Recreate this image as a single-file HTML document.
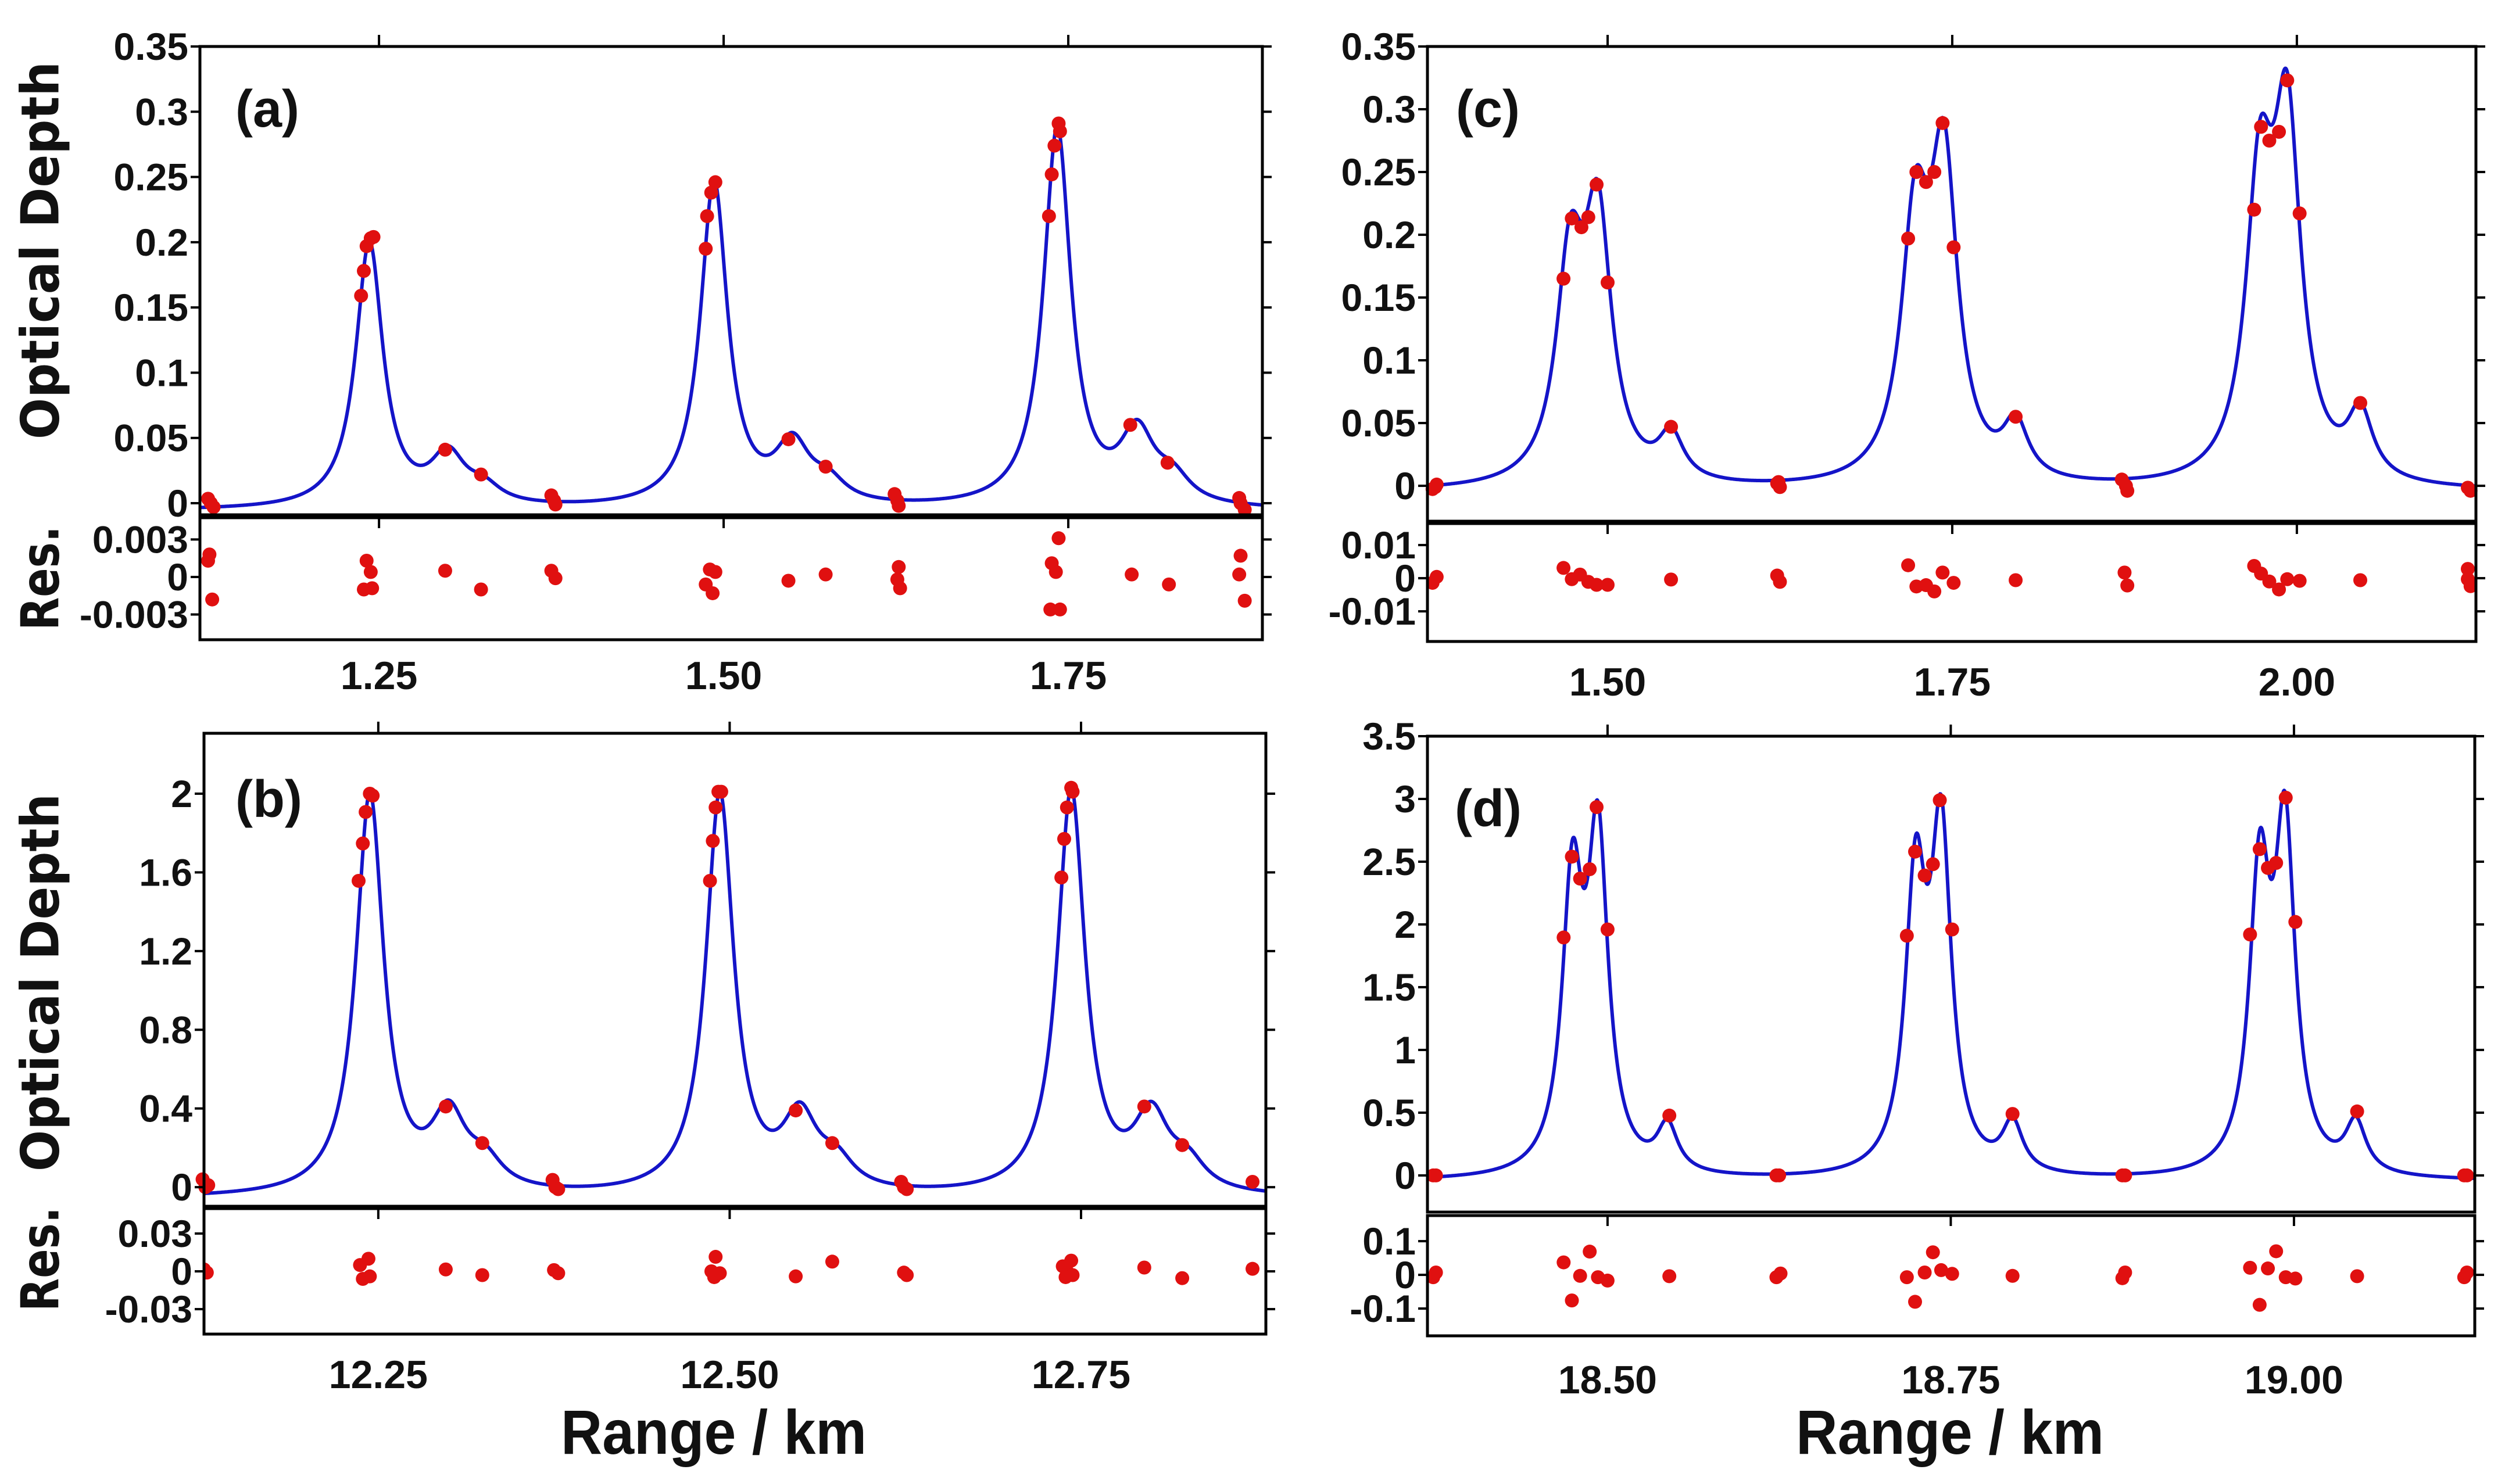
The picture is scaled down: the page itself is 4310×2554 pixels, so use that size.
<!DOCTYPE html>
<html><head><meta charset="utf-8">
<style>
html,body{margin:0;padding:0;background:#fff;}
svg{display:block;}
text{font-family:"Liberation Sans",Arial,sans-serif;font-weight:bold;fill:#111;}
</style></head>
<body>
<svg id="chart" width="4310" height="2554" viewBox="0 0 4310 2554" xmlns="http://www.w3.org/2000/svg">
<rect x="0" y="0" width="4310" height="2554" fill="#fff"/>
<text x="70" y="431" transform="rotate(-90 70 431)" text-anchor="middle" dominant-baseline="central" style="font-family:'DejaVu Sans',sans-serif;font-size:90px" textLength="650" lengthAdjust="spacingAndGlyphs">Optical Depth</text>
<text x="70" y="995" transform="rotate(-90 70 995)" text-anchor="middle" dominant-baseline="central" style="font-family:'DejaVu Sans',sans-serif;font-size:90px" textLength="180" lengthAdjust="spacingAndGlyphs">Res.</text>
<text x="70" y="1691" transform="rotate(-90 70 1691)" text-anchor="middle" dominant-baseline="central" style="font-family:'DejaVu Sans',sans-serif;font-size:90px" textLength="650" lengthAdjust="spacingAndGlyphs">Optical Depth</text>
<text x="70" y="2167" transform="rotate(-90 70 2167)" text-anchor="middle" dominant-baseline="central" style="font-family:'DejaVu Sans',sans-serif;font-size:90px" textLength="180" lengthAdjust="spacingAndGlyphs">Res.</text>
<text x="1228" y="2502" text-anchor="middle" style="font-size:108px" textLength="526" lengthAdjust="spacingAndGlyphs">Range / km</text>
<text x="3355" y="2502" text-anchor="middle" style="font-size:108px" textLength="530" lengthAdjust="spacingAndGlyphs">Range / km</text>
</svg>
<script>
// ---------- Panel (a) data ----------
const aCenters=[1.243,1.300,1.326,1.493,1.550,1.576,1.742,1.800,1.826];
const aHeights=[0.203,0.037,0.012,0.249,0.044,0.015,0.290,0.053,0.018];
const aWidths=[0.012,0.015,0.015,0.012,0.015,0.015,0.012,0.015,0.015];
const aBase=[-0.006];
const aPtsX=[1.126,1.128,1.130,1.237,1.239,1.241,1.244,1.246,1.298,1.324,1.375,1.377,1.378,1.487,1.488,1.491,1.494,1.547,1.574,1.624,1.626,1.627,1.736,1.738,1.740,1.743,1.744,1.795,1.822,1.874,1.875,1.878];
const aPtsY=[0.0034,0,-0.003,0.159,0.178,0.197,0.203,0.204,0.041,0.022,0.006,0.002,-0.001,0.195,0.22,0.238,0.246,0.049,0.028,0.007,0.002,-0.002,0.22,0.252,0.274,0.291,0.285,0.06,0.031,0.004,0,-0.005];
const aResX=[1.126,1.127,1.129,1.241,1.244,1.239,1.245,1.298,1.324,1.375,1.378,1.490,1.494,1.487,1.492,1.547,1.574,1.627,1.626,1.628,1.743,1.738,1.741,1.737,1.744,1.796,1.823,1.875,1.874,1.878];
const aResY=[0.0013,0.0018,-0.0018,0.0013,0.0004,-0.001,-0.0009,0.0005,-0.001,0.0005,-0.0001,0.0006,0.0004,-0.0006,-0.0013,-0.0003,0.0002,0.0008,-0.0002,-0.0009,0.0031,0.0011,0.0004,-0.0026,-0.0026,0.0002,-0.0006,0.0017,0.0002,-0.0019];
const aXTicks=[1.25,1.50,1.75];
const aXTickLabels=["1.25","1.50","1.75"];
const aYTicks=[0,0.05,0.1,0.15,0.2,0.25,0.3,0.35];
const aYTickLabels=["0","0.05","0.1","0.15","0.2","0.25","0.3","0.35"];
const aRTicks=[0.003,0,-0.003];
const aRTickLabels=["0.003","0","-0.003"];

// ---------- Panel (b) data ----------
const bCenters=[12.244,12.300,12.326,12.493,12.550,12.576,12.743,12.800,12.826];
const bHeights=[2.03,0.37,0.13,2.03,0.36,0.13,2.05,0.37,0.13];
const bWidths=[0.012,0.015,0.015,0.012,0.015,0.015,0.012,0.015,0.015];
const bBase=[-0.06];
const bPtsX=[12.125,12.127,12.129,12.236,12.239,12.241,12.244,12.246,12.298,12.324,12.374,12.376,12.378,12.486,12.488,12.490,12.492,12.494,12.547,12.573,12.622,12.624,12.626,12.736,12.738,12.740,12.743,12.744,12.795,12.822,12.872];
const bPtsY=[0.04,0,0.01,1.557,1.747,1.907,2.0,1.99,0.41,0.224,0.037,0,-0.01,1.557,1.76,1.93,2.01,2.01,0.39,0.224,0.027,0,-0.01,1.574,1.77,1.93,2.03,2.01,0.41,0.214,0.027];
const bResX=[12.126,12.128,12.125,12.243,12.237,12.239,12.244,12.298,12.324,12.375,12.378,12.490,12.487,12.489,12.493,12.547,12.573,12.624,12.626,12.737,12.743,12.740,12.739,12.744,12.795,12.822,12.872];
const bResY=[0.0015,-0.001,0.001,0.01,0.005,-0.006,-0.004,0.0015,-0.003,0.001,-0.0015,0.0115,0,-0.0046,-0.0015,-0.004,0.0077,-0.001,-0.003,0.004,0.0085,0,-0.0046,-0.003,0.003,-0.0054,0.002];
const bXTicks=[12.25,12.50,12.75];
const bXTickLabels=["12.25","12.50","12.75"];
const bYTicks=[0,0.4,0.8,1.2,1.6,2];
const bYTickLabels=["0","0.4","0.8","1.2","1.6","2"];
const bRTicks=[0.03,0,-0.03];
const bRTickLabels=["0.03","0","-0.03"];

// ---------- Panel (c) data ----------
const cCenters=[1.4727,1.493,1.546,1.723,1.744,1.796,1.973,1.993,2.046];
const cHeights=[0.166,0.202,0.036,0.193,0.245,0.043,0.221,0.273,0.052];
const cWidths=[0.012,0.012,0.011,0.012,0.012,0.011,0.012,0.012,0.011];
const cBase=[-0.005];
const cPtsX=[1.373,1.376,1.375,1.468,1.474,1.481,1.486,1.492,1.500,1.546,1.623,1.625,1.624,1.718,1.724,1.731,1.737,1.743,1.751,1.796,1.873,1.876,1.877,1.969,1.974,1.980,1.987,1.993,2.002,2.046,2.124,2.126];
const cPtsY=[-0.0026,0.001,-0.001,0.165,0.213,0.206,0.214,0.24,0.162,0.047,0.002,-0.001,0.003,0.197,0.25,0.242,0.25,0.289,0.19,0.055,0.005,0,-0.004,0.22,0.286,0.275,0.282,0.323,0.217,0.066,-0.0015,-0.004];
const cResX=[1.373,1.376,1.468,1.474,1.480,1.486,1.492,1.500,1.546,1.623,1.625,1.718,1.724,1.731,1.737,1.743,1.751,1.796,1.875,1.877,1.969,1.974,1.980,1.987,1.993,2.002,2.046,2.124,2.124,2.126];
const cResY=[-0.0014,0.0004,0.0031,-0.0003,0.0011,-0.0011,-0.002,-0.002,-0.0004,0.0008,-0.0011,0.0039,-0.0025,-0.0021,-0.004,0.0017,-0.0014,-0.0006,0.0017,-0.0022,0.0037,0.0014,-0.001,-0.0034,-0.0003,-0.0008,-0.0006,0.0028,-0.0003,-0.0024];
const cXTicks=[1.50,1.75,2.00];
const cXTickLabels=["1.50","1.75","2.00"];
const cYTicks=[0,0.05,0.1,0.15,0.2,0.25,0.3,0.35];
const cYTickLabels=["0","0.05","0.1","0.15","0.2","0.25","0.3","0.35"];
const cRTicks=[0.01,0,-0.01];
const cRTickLabels=["0.01","0","-0.01"];

// ---------- Panel (d) data ----------
const dCenters=[18.4744,18.493,18.5436,18.7244,18.743,18.795,18.975,18.9935,19.045];
const dHeights=[2.22,2.59,0.37,2.24,2.63,0.39,2.28,2.65,0.40];
const dWidths=[0.009,0.009,0.009,0.009,0.009,0.009,0.009,0.009,0.009];
const dBase=[-0.05];
const dPtsX=[18.373,18.375,18.468,18.474,18.480,18.487,18.492,18.500,18.545,18.623,18.625,18.718,18.724,18.731,18.737,18.742,18.751,18.795,18.875,18.877,18.968,18.975,18.981,18.987,18.994,19.001,19.046,19.124,19.126];
const dPtsY=[0,0,1.896,2.54,2.365,2.44,2.935,1.96,0.477,0,0,1.91,2.58,2.39,2.48,2.99,1.96,0.49,0,0,1.92,2.6,2.45,2.49,3.01,2.02,0.51,0,0];
const dResX=[18.373,18.375,18.468,18.474,18.480,18.487,18.493,18.500,18.545,18.623,18.626,18.718,18.724,18.731,18.737,18.743,18.751,18.795,18.875,18.877,18.968,18.975,18.981,18.987,18.994,19.001,19.046,19.124,19.126];
const dResY=[-0.007,0.007,0.037,-0.076,-0.003,0.069,-0.007,-0.017,-0.004,-0.007,0.004,-0.007,-0.08,0.007,0.067,0.014,0.003,-0.003,-0.01,0.007,0.021,-0.089,0.019,0.07,-0.007,-0.011,-0.004,-0.007,0.007];
const dXTicks=[18.50,18.75,19.00];
const dXTickLabels=["18.50","18.75","19.00"];
const dYTicks=[0,0.5,1,1.5,2,2.5,3,3.5];
const dYTickLabels=["0","0.5","1","1.5","2","2.5","3","3.5"];
const dRTicks=[0.1,0,-0.1];
const dRTickLabels=["0.1","0","-0.1"];

// ---------- layout (pixels / domains) ----------
const layouts={
 a:{x0:344,x1:2172,mt:80,mb:886,rt:891,rb:1101,xd:[1.1201,1.8908],yd:[-0.0089,0.35],rd:[-0.00502,0.00474],ly:1163,lab:[405,218]},
 b:{x0:351,x1:2178,mt:1262,mb:2076,rt:2080,rb:2296,xd:[12.126,12.8815],yd:[-0.097,2.307],rd:[-0.0498,0.0498],ly:2366,lab:[405,1406]},
 c:{x0:2456,x1:4260,mt:80,mb:897,rt:901,rb:1104,xd:[1.3693,2.1299],yd:[-0.0282,0.35],rd:[-0.0191,0.0165],ly:1174,lab:[2505,218]},
 d:{x0:2456,x1:4258,mt:1267,mb:2086,rt:2092,rb:2299,xd:[18.3688,19.1317],yd:[-0.292,3.5],rd:[-0.181,0.176],ly:2375,lab:[2503,1422]}
};
const panelData={
 a:{C:aCenters,H:aHeights,W:aWidths,B:aBase,px:aPtsX,py:aPtsY,rx:aResX,ry:aResY,xt:aXTicks,xl:aXTickLabels,yt:aYTicks,yl:aYTickLabels,rt:aRTicks,rl:aRTickLabels},
 b:{C:bCenters,H:bHeights,W:bWidths,B:bBase,px:bPtsX,py:bPtsY,rx:bResX,ry:bResY,xt:bXTicks,xl:bXTickLabels,yt:bYTicks,yl:bYTickLabels,rt:bRTicks,rl:bRTickLabels},
 c:{C:cCenters,H:cHeights,W:cWidths,B:cBase,px:cPtsX,py:cPtsY,rx:cResX,ry:cResY,xt:cXTicks,xl:cXTickLabels,yt:cYTicks,yl:cYTickLabels,rt:cRTicks,rl:cRTickLabels},
 d:{C:dCenters,H:dHeights,W:dWidths,B:dBase,px:dPtsX,py:dPtsY,rx:dResX,ry:dResY,xt:dXTicks,xl:dXTickLabels,yt:dYTicks,yl:dYTickLabels,rt:dRTicks,rl:dRTickLabels}
};

const NS="http://www.w3.org/2000/svg";
const svg=document.getElementById('chart');
function mk(tag,attrs,parent){const e=document.createElementNS(NS,tag);for(const k in attrs)e.setAttribute(k,attrs[k]);(parent||svg).appendChild(e);return e;}
function scale(d0,d1,r0,r1){return v=>r0+(v-d0)/(d1-d0)*(r1-r0);}

for(const id of ['a','b','c','d']){
 const L=layouts[id],D=panelData[id];
 const g=mk('g',{});
 
 
 const X=scale(L.xd[0],L.xd[1],L.x0,L.x1);
 const Y=scale(L.yd[0],L.yd[1],L.mb,L.mt);
 const R=scale(L.rd[0],L.rd[1],L.rb,L.rt);
 const defs=mk('defs',{},g);
 const cp=mk('clipPath',{id:'clip-'+id},defs);
 mk('rect',{x:L.x0,y:L.mt,width:L.x1-L.x0,height:L.mb-L.mt},cp);
 const cpr=mk('clipPath',{id:'clipr-'+id},defs);
 mk('rect',{x:L.x0,y:L.rt,width:L.x1-L.x0,height:L.rb-L.rt},cpr);
 let dstr='';
 for(let px=L.x0;px<=L.x1;px+=1){
  const xv=L.xd[0]+(px-L.x0)/(L.x1-L.x0)*(L.xd[1]-L.xd[0]);
  let yv=D.B[0];
  for(let i=0;i<D.C.length;i++){const u=(xv-D.C[i])/D.W[i];yv+=D.H[i]/(1+u*u);}
  dstr+=(px===L.x0?'M':'L')+X(xv).toFixed(1)+' '+Y(yv).toFixed(1);
 }
 const curve=mk('path',{d:dstr,fill:'none',stroke:'#1414c8','stroke-width':6,'stroke-linejoin':'round','clip-path':'url(#clip-'+id+')'},g);
 
 
 for(let i=0;i<D.px.length;i++){
  const c=mk('circle',{cx:X(D.px[i]),cy:Y(D.py[i]),r:12,fill:'#e01010'},g);
  
  
 }
 for(let i=0;i<D.rx.length;i++){
  const c=mk('circle',{cx:X(D.rx[i]),cy:R(D.ry[i]),r:12,fill:'#e01010','clip-path':'url(#clipr-'+id+')'},g);
  
  
 }
 const f1=mk('rect',{x:L.x0,y:L.mt,width:L.x1-L.x0,height:L.mb-L.mt,fill:'none',stroke:'#000','stroke-width':5},g);
 
 
 const f2=mk('rect',{x:L.x0,y:L.rt,width:L.x1-L.x0,height:L.rb-L.rt,fill:'none',stroke:'#000','stroke-width':5},g);
 
 
 for(let i=0;i<D.yt.length;i++){
  const y=Y(D.yt[i]);
  mk('line',{x1:L.x0-16,y1:y,x2:L.x0,y2:y,stroke:'#000','stroke-width':4},g);
  mk('line',{x1:L.x1,y1:y,x2:L.x1+16,y2:y,stroke:'#000','stroke-width':4},g);
  const t=mk('text',{x:L.x0-20,y:y,'text-anchor':'end','dominant-baseline':'central','font-size':66},g);
  t.textContent=D.yl[i];
  
  
 }
 for(let i=0;i<D.rt.length;i++){
  const y=R(D.rt[i]);
  mk('line',{x1:L.x0-16,y1:y,x2:L.x0,y2:y,stroke:'#000','stroke-width':4},g);
  mk('line',{x1:L.x1,y1:y,x2:L.x1+16,y2:y,stroke:'#000','stroke-width':4},g);
  const t=mk('text',{x:L.x0-20,y:y,'text-anchor':'end','dominant-baseline':'central','font-size':66},g);
  t.textContent=D.rl[i];
  
  
 }
 for(let i=0;i<D.xt.length;i++){
  const x=X(D.xt[i]);
  mk('line',{x1:x,y1:L.mt-20,x2:x,y2:L.mt,stroke:'#000','stroke-width':4},g);
  mk('line',{x1:x,y1:L.rt,x2:x,y2:L.rt+18,stroke:'#000','stroke-width':4},g);
  const t=mk('text',{x:x,y:L.ly,'text-anchor':'middle','dominant-baseline':'central','font-size':68},g);
  t.textContent=D.xl[i];
  
  
 }
 const pl=mk('text',{x:L.lab[0],y:L.lab[1],'font-size':90},g);
 pl.textContent='('+id+')';
 
 
}
</script>
</body></html>
